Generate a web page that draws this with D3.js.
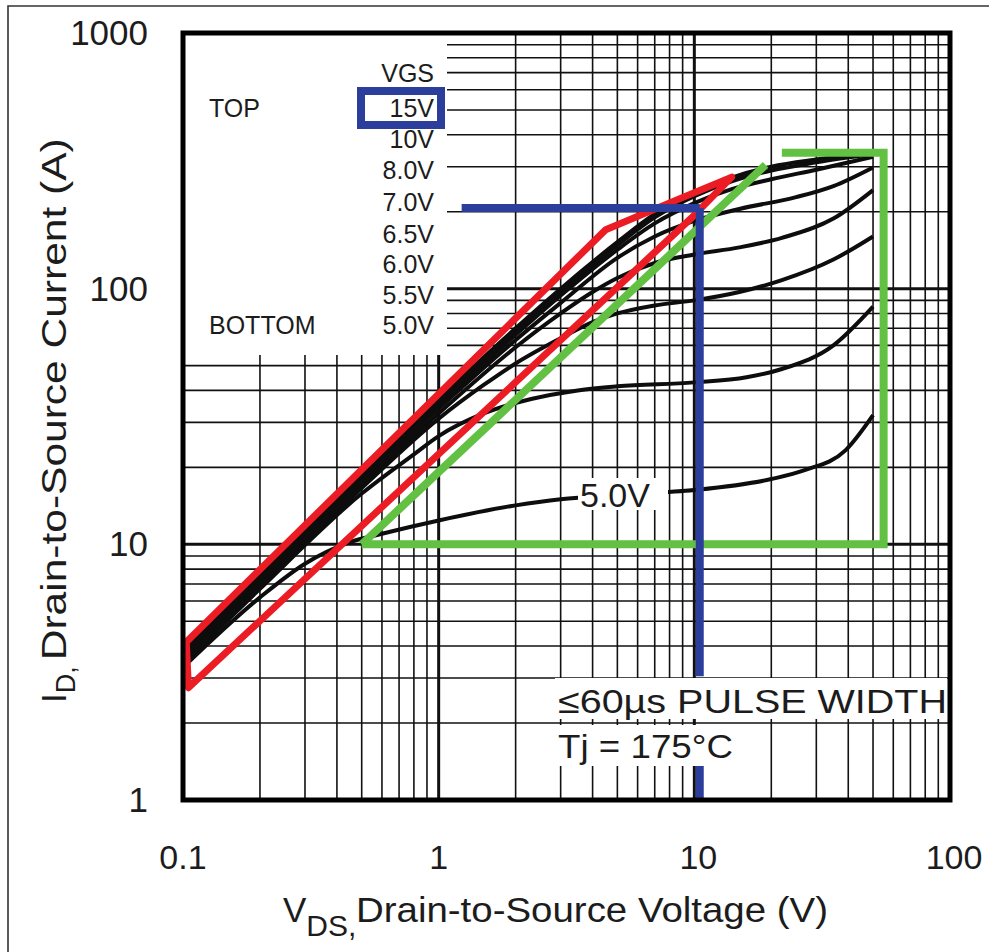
<!DOCTYPE html>
<html><head><meta charset="utf-8">
<script src="https://cdn.jsdelivr.net/npm/d3@7"></script>
<style>
body{margin:0;background:#fff}
svg{display:block}
text{font-family:"Liberation Sans",Arial,Helvetica,sans-serif;fill:#1c1c1c}
</style>
</head><body>
<svg id="c" width="989" height="952"></svg>
<script>
// ---------- data ----------
const xTickValues = [0.1, 1, 10, 100];
const xTickLabels = ["0.1", "1", "10", "100"];
const yTickValues = [1, 10, 100, 1000];
const yTickLabels = ["1", "10", "100", "1000"];
const legendLabels = ["15V", "10V", "8.0V", "7.0V", "6.5V", "6.0V", "5.5V", "5.0V"];

const vgs15V = [[0.1,4.0],[0.2,7.9],[0.5,19.2],[1,37],[2,70],[3,100],[5,152],[7,196],[10,238],[14,272],[20,300],[30,320],[50,340]];
const vgs10V = [[0.1,3.9],[0.2,7.7],[0.5,18.7],[1,36],[2,68],[3,97],[5,148],[7,190],[10,230],[14,263],[20,290],[30,312],[50,336]];
const vgs8V  = [[0.1,3.8],[0.2,7.5],[0.5,18.2],[1,35],[2,66],[3,94],[5,142],[7,180],[10,216],[14,245],[20,268],[30,292],[50,328]];
const vgs7V  = [[0.1,3.7],[0.2,7.3],[0.5,17.7],[1,34],[2,63],[3,88],[5,132],[7,160],[10,184],[15,205],[25,228],[35,252],[50,298]];
const vgs65V = [[0.1,3.6],[0.2,7.1],[0.5,17.2],[1,32.5],[2,59],[3,80],[4,97],[5,110],[7,126],[10,136],[15,145],[22,158],[35,188],[50,243]];
const vgs6V  = [[0.1,3.5],[0.2,6.9],[0.5,16.6],[1,31],[1.5,42],[2,51],[3,64],[4,74],[5,80],[7,86],[10,90],[15,97],[22,108],[35,130],[50,160]];
const vgs55V = [[0.1,3.4],[0.2,6.7],[0.5,15.8],[0.8,22.5],[1,26.5],[1.5,32.5],[2.3,37],[3.5,40],[5,41.5],[10,43],[16,45],[22,48.5],[35,60],[50,85]];
const vgs5V  = [[0.1,3.3],[0.2,6.2],[0.3,8.4],[0.45,10.2],[0.6,11],[1,12.4],[2,14.2],[3,15],[5,15.6],[10,16.3],[20,18],[27,19.5],[39,23.3],[50,32]];
const curves = [vgs15V, vgs10V, vgs8V, vgs7V, vgs65V, vgs6V, vgs55V, vgs5V];

const greenDiag = [[0.5,10],[19,305]];
const greenBox  = [[22,340],[55,340],[55,10],[0.5,10]];
const redOutline = [[0.103,4.15],[4.5,170],[8.5,222],[14,273],[9.8,190],[0.105,2.75]];
const blueH  = [[1.23,207],[10.5,207]];
const blueV1 = [[10.5,207],[10.5,3.05]];
const blueV2 = [[10.5,1.36],[10.5,1]];

// ---------- scales ----------
const svg = d3.select("#c");
const x = d3.scaleLog().domain([0.1, 100]).range([183, 950]);
const y = d3.scaleLog().domain([1, 1000]).range([800, 33]);

// outer border (left + top edges of the scanned frame)
svg.append("path").attr("d","M8,952 V6 H989").attr("fill","none").attr("stroke","#333").attr("stroke-width",1.6);

// ---------- grid ----------
const grid = svg.append("g");
const minor = (lo, hi) => { const a=[]; for (let d=lo; d<hi; d*=10) for (let k=1;k<=10;k++) a.push(d*k); return Array.from(new Set(a.map(v=>+v.toPrecision(3)))); };
const xs = minor(0.1, 100), ys = minor(1, 1000);
const isDecade = v => Math.abs(Math.log10(v) - Math.round(Math.log10(v))) < 1e-6;
grid.selectAll(".vx").data(xs).enter().append("line")
  .attr("x1", d=>x(d)).attr("x2", d=>x(d)).attr("y1", y(1000)).attr("y2", y(1))
  .attr("stroke","#111").attr("stroke-width", d=>isDecade(d)?3:1.6);
grid.selectAll(".hy").data(ys).enter().append("line")
  .attr("y1", d=>y(d)).attr("y2", d=>y(d)).attr("x1", x(0.1)).attr("x2", x(100))
  .attr("stroke","#111").attr("stroke-width", d=>isDecade(d)?3:1.6);

// white legend area masking grid
svg.append("rect").attr("x",185).attr("y",35).attr("width",262).attr("height",320).attr("fill","#fff");

// ---------- curves ----------
const line = d3.line().x(d=>x(d[0])).y(d=>y(d[1])).curve(d3.curveMonotoneX);
svg.append("g").selectAll("path").data(curves).enter().append("path")
  .attr("d", line).attr("fill","none").attr("stroke","#0d0d0d").attr("stroke-width",4)
  .attr("stroke-linejoin","round");

const straight = d3.line().x(d=>x(d[0])).y(d=>y(d[1]));
const green = "#62c043";
svg.append("path").attr("d", straight(greenDiag)).attr("fill","none").attr("stroke",green).attr("stroke-width",8);
svg.append("path").attr("d", straight(greenBox)).attr("fill","none").attr("stroke",green).attr("stroke-width",8).attr("stroke-linejoin","miter");
svg.append("path").attr("d", straight(redOutline)+"Z").attr("fill","none").attr("stroke","#ec1c24").attr("stroke-width",7).attr("stroke-linejoin","round");
const blue = "#2c3e9c";
[blueH, blueV1, blueV2].forEach(p => svg.append("path").attr("d", straight(p)).attr("fill","none").attr("stroke",blue).attr("stroke-width",8));

// white boxes behind the pulse-width note (on top of lines)
svg.append("rect").attr("x",555).attr("y",678).attr("width",392).attr("height",41).attr("fill","#fff");
svg.append("rect").attr("x",555).attr("y",725).attr("width",182).attr("height",41).attr("fill","#fff");

// ---------- frame ----------
svg.append("rect").attr("x",x(0.1)).attr("y",y(1000)).attr("width",x(100)-x(0.1)).attr("height",y(1)-y(1000))
  .attr("fill","none").attr("stroke","#000").attr("stroke-width",5);

// ---------- axes labels ----------
svg.selectAll(".xt").data(xTickValues).enter().append("text")
  .attr("x", d=>x(d)+(d>=10?4:0)).attr("y", 869).attr("text-anchor","middle").attr("font-size",34)
  .text((d,i)=>xTickLabels[i]);
svg.selectAll(".yt").data(yTickValues).enter().append("text")
  .attr("x", 148).attr("y", d=>y(d)+12).attr("text-anchor","end").attr("font-size",35)
  .text((d,i)=>yTickLabels[i]);

// x title
const xt = svg.append("text").attr("x",283).attr("y",922).attr("font-size",35);
xt.append("tspan").text("V");
xt.append("tspan").attr("dy",14).attr("font-size",30).text("DS,");
xt.append("tspan").attr("dy",-14).attr("x",356).text("Drain-to-Source Voltage (V)").attr("textLength",472).attr("lengthAdjust","spacingAndGlyphs");

// y title
const yt = svg.append("text").attr("transform","translate(66,703) rotate(-90)").attr("font-size",35);
yt.append("tspan").text("I");
yt.append("tspan").attr("dy",9).attr("font-size",27).text("D,");
yt.append("tspan").attr("dy",-9).attr("dx",6).text("Drain-to-Source Current (A)").attr("textLength",522).attr("lengthAdjust","spacingAndGlyphs");

// legend
const legendY = [108, 139, 170, 202, 234, 264, 295, 325];
svg.append("text").attr("x",434).attr("y",82).attr("text-anchor","end").attr("font-size",25).text("VGS");
svg.append("text").attr("x",209).attr("y",117).attr("font-size",25).text("TOP");
svg.append("text").attr("x",209).attr("y",334).attr("font-size",25).text("BOTTOM");
svg.selectAll(".lg").data(legendLabels).enter().append("text")
  .attr("x",434).attr("y",(d,i)=>legendY[i]+9).attr("text-anchor","end").attr("font-size",25).text(d=>d);
svg.append("rect").attr("x",361).attr("y",91).attr("width",80).attr("height",34)
  .attr("fill","none").attr("stroke",blue).attr("stroke-width",8);

// annotations
svg.append("text").attr("x",558).attr("y",713).attr("font-size",34).attr("textLength",389).attr("lengthAdjust","spacingAndGlyphs").text("≤60µs PULSE WIDTH");
svg.append("text").attr("x",558).attr("y",758).attr("font-size",34).attr("textLength",175).attr("lengthAdjust","spacingAndGlyphs").text("Tj = 175°C");
// 5.0V curve label
svg.append("rect").attr("x",578).attr("y",478).attr("width",90).attr("height",32).attr("fill","#fff");
svg.append("text").attr("x",580).attr("y",507).attr("font-size",34).text("5.0V");
</script>
</body></html>
